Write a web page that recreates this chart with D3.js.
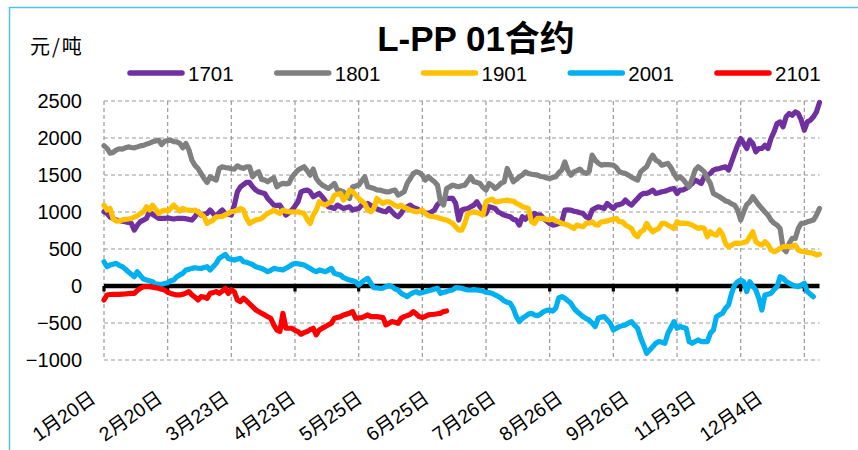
<!DOCTYPE html>
<html>
<head>
<meta charset="utf-8">
<script src="https://cdn.jsdelivr.net/npm/d3@7"></script>
<style>
  html, body { margin: 0; padding: 0; background: #fff; }
  svg { display: block; font-family: "Liberation Sans", "Noto Sans CJK SC", sans-serif; }
</style>
</head>
<body>
<svg id="chart" width="858" height="450"></svg>
<script>
// Trading-day axis: one value per session, labels every 22 sessions, ticks every 21
const dayCount = 237;
const tickStep = 21;
const labelStep = 22;
const dateLabels = ["1月20日", "2月20日", "3月23日", "4月23日", "5月25日", "6月25日",
                    "7月26日", "8月26日", "9月26日", "11月3日", "12月4日"];
const yTicks = [2500, 2000, 1500, 1000, 500, 0, -500, -1000];

const seriesNames = ["1701", "1801", "1901", "2001", "2101"];
const seriesColors = ["#7030a0", "#808080", "#ffc000", "#00b0f0", "#ff0000"];

// L-PP spread, 元/吨
const s1701 = [
  1003, 981, 930, 913, 891, 885, 877, 870, 860, 846,
  756, 823, 870, 891, 913, 1003, 967, 940, 913, 913,
  913, 920, 913, 905, 913, 913, 913, 910, 900, 891,
  936, 1003, 958, 970, 981, 1026, 980, 936, 990, 1026,
  981, 970, 958, 1093, 1273, 1341, 1370, 1400, 1400, 1341,
  1300, 1273, 1260, 1251, 1183, 1140, 1093, 1090, 1093, 1026,
  958, 990, 1026, 1080, 1138, 1273, 1290, 1296, 1273, 1206,
  1230, 1251, 1206, 1150, 1071, 1060, 1048, 1093, 1070, 1048,
  1060, 1071, 1026, 1040, 1048, 1093, 1100, 1116, 1090, 1071,
  1040, 1026, 1010, 1003, 1048, 1003, 960, 936, 981, 1048,
  1070, 1093, 1060, 1048, 1026, 1010, 990, 981, 1000, 1026,
  1100, 1138, 1160, 1183, 1183, 1183, 1116, 891, 1026, 1040,
  1048, 1070, 1093, 1138, 1071, 1020, 981, 1071, 1060, 1048,
  1000, 981, 958, 945, 936, 900, 891, 823, 936, 900,
  950, 913, 981, 960, 958, 913, 880, 846, 823, 830,
  846, 868, 1026, 1030, 1026, 1010, 1003, 990, 981, 936,
  913, 1026, 1050, 1071, 1060, 1048, 1116, 1080, 1048, 1093,
  1100, 1116, 1161, 1120, 1093, 1140, 1183, 1230, 1251, 1251,
  1270, 1296, 1251, 1260, 1273, 1280, 1296, 1310, 1318, 1251,
  1296, 1300, 1318, 1350, 1386, 1431, 1410, 1386, 1476, 1500,
  1521, 1566, 1580, 1588, 1600, 1611, 1566, 1678, 1791, 1903,
  1993, 1926, 1858, 1971, 1926, 1813, 1858, 1858, 1903, 1858,
  1993, 2083, 2196, 2218, 2151, 2286, 2331, 2308, 2353, 2330,
  2241, 2106, 2218, 2241, 2286, 2353, 2480
];
const s1801 = [
  1895, 1860, 1795, 1805, 1835, 1855, 1850, 1868, 1880, 1872,
  1867, 1880, 1894, 1900, 1917, 1930, 1948, 1960, 1971, 1912,
  1957, 1965, 1971, 1950, 1948, 1926, 1867, 1926, 1840, 1700,
  1630, 1588, 1521, 1453, 1400, 1476, 1450, 1431, 1588, 1611,
  1600, 1597, 1585, 1580, 1624, 1600, 1590, 1611, 1611, 1476,
  1520, 1543, 1440, 1431, 1408, 1440, 1462, 1341, 1370, 1386,
  1380, 1386, 1470, 1521, 1566, 1590, 1611, 1560, 1498, 1580,
  1453, 1400, 1363, 1340, 1318, 1350, 1386, 1296, 1290, 1273,
  1220, 1183, 1341, 1350, 1363, 1420, 1476, 1341, 1330, 1318,
  1300, 1296, 1285, 1273, 1273, 1290, 1296, 1228, 1250, 1273,
  1386, 1450, 1521, 1543, 1530, 1498, 1431, 1476, 1440, 1408,
  1363, 1138, 1093, 1318, 1340, 1363, 1350, 1341, 1355, 1363,
  1420, 1476, 1408, 1400, 1386, 1330, 1296, 1386, 1360, 1318,
  1350, 1390, 1408, 1588, 1500, 1408, 1440, 1476, 1500, 1543,
  1521, 1510, 1505, 1498, 1480, 1476, 1460, 1453, 1465, 1476,
  1530, 1566, 1678, 1560, 1498, 1543, 1560, 1580, 1540, 1521,
  1543, 1768, 1701, 1660, 1633, 1640, 1642, 1638, 1633, 1600,
  1543, 1530, 1521, 1498, 1470, 1450, 1431, 1543, 1580, 1611,
  1700, 1768, 1700, 1678, 1633, 1645, 1656, 1600, 1520, 1453,
  1476, 1440, 1386, 1341, 1450, 1566, 1611, 1580, 1543, 1453,
  1386, 1250, 1228, 1206, 1180, 1150, 1138, 1110, 1093, 1026,
  891, 1003, 1100, 1138, 1206, 1150, 1093, 1048, 1000, 958,
  891, 850, 823, 778, 508, 463, 576, 643, 643, 778,
  846, 850, 868, 880, 891, 958, 1048
];
const s1901 = [
  1093, 1026, 1048, 913, 877, 880, 891, 900, 905, 913,
  930, 949, 980, 1003, 1071, 1026, 1093, 1040, 981, 1010,
  1026, 1012, 1050, 1093, 1050, 1012, 1048, 1030, 1026, 1020,
  1026, 1003, 970, 936, 846, 870, 891, 936, 936, 940,
  960, 981, 1003, 1010, 1026, 1048, 1026, 913, 846, 870,
  891, 900, 913, 950, 981, 1000, 1026, 1000, 981, 1026,
  1010, 1003, 1003, 1000, 1003, 990, 981, 900, 846, 958,
  1026, 1138, 1110, 1093, 1120, 1138, 1228, 1240, 1251, 1161,
  1206, 1296, 1273, 1230, 1183, 1150, 1116, 1026, 1003, 1048,
  1183, 1150, 1116, 1138, 1138, 1116, 1090, 1071, 1093, 1060,
  1048, 1026, 1015, 1003, 1010, 1026, 980, 949, 940, 936,
  925, 913, 900, 891, 870, 846, 800, 756, 756, 846,
  981, 990, 1003, 990, 981, 958, 1138, 1160, 1175, 1138,
  1140, 1148, 1155, 1161, 1150, 1148, 1116, 1100, 1071, 1060,
  1048, 868, 846, 913, 913, 913, 900, 891, 913, 880,
  868, 846, 835, 823, 800, 778, 823, 810, 801, 846,
  850, 868, 830, 823, 868, 870, 880, 891, 900, 913,
  868, 868, 823, 800, 778, 700, 666, 733, 756, 846,
  780, 733, 760, 778, 846, 846, 820, 801, 778, 868,
  846, 850, 846, 840, 823, 800, 778, 790, 778, 666,
  733, 700, 688, 756, 700, 576, 531, 550, 576, 580,
  576, 590, 598, 666, 733, 598, 570, 553, 598, 560,
  486, 463, 480, 508, 531, 531, 531, 540, 553, 486,
  470, 463, 454, 450, 441, 418, 430
];
const s2001 = [
  328, 260, 283, 295, 306, 280, 261, 230, 193, 160,
  126, 193, 140, 94, 81, 70, 58, 30, 22, 22,
  35, 45, 70, 81, 126, 150, 171, 216, 225, 238,
  247, 240, 238, 250, 261, 216, 260, 306, 373, 400,
  427, 373, 360, 351, 365, 373, 328, 320, 306, 290,
  261, 250, 238, 215, 193, 210, 238, 230, 225, 216,
  240, 261, 290, 306, 300, 293, 283, 260, 238, 210,
  193, 216, 205, 193, 215, 238, 171, 160, 148, 112,
  95, 81, 70, 58, 13, 50, 81, 103, 36, -22,
  -25, -31, -28, -10, 5, -9, -40, -54, -99, -120,
  -144, -112, -90, -76, -99, -90, -76, -65, -54, -40,
  -31, -99, -85, -76, -60, -54, -22, -25, -31, -45,
  -54, -54, -50, -54, -60, -67, -85, -90, -99, -121,
  -140, -166, -202, -220, -234, -301, -414, -481, -436, -410,
  -380, -369, -391, -400, -380, -346, -330, -324, -340, -300,
  -160, -144, -166, -200, -234, -300, -346, -380, -414, -440,
  -459, -500, -549, -436, -420, -414, -460, -504, -594, -570,
  -549, -535, -526, -500, -481, -530, -571, -700, -800, -909,
  -864, -820, -774, -751, -760, -774, -639, -560, -481, -571,
  -549, -560, -571, -751, -774, -750, -729, -751, -751, -751,
  -639, -594, -414, -390, -369, -300, -256, -99, 13, 58,
  81, 58, -76, 58, 0, -54, -166, -324, -121, -110,
  -99, -50, -9, 126, 103, 60, 36, 13, 0, -9,
  13, 36, -76, -110, -144
];
const s2101 = [
  -189, -121, -115, -112, -112, -112, -110, -108, -103, -100,
  -99, -60, -31, -9, -9, -9, -15, -22, -31, -45,
  -54, -85, -100, -112, -121, -121, -112, -95, -76, -121,
  -150, -189, -144, -150, -166, -99, -90, -76, -99, -70,
  -31, -100, -50, -80, -190, -211, -166, -200, -240, -279,
  -320, -346, -370, -391, -415, -436, -526, -594, -616, -369,
  -571, -571, -571, -600, -616, -652, -630, -616, -590, -571,
  -661, -594, -570, -549, -525, -504, -436, -425, -414, -391,
  -380, -369, -346, -436, -430, -427, -410, -391, -414, -414,
  -414, -420, -427, -526, -504, -481, -490, -504, -436, -414,
  -400, -382, -346, -380, -414, -427, -410, -391, -385, -382,
  -375, -369, -346, -337
];
const seriesValues = [s1701, s1801, s1901, s2001, s2101];

const svg = d3.select("#chart");
const plot = { left: 104, right: 819.5, top: 101, bottom: 360 };

const x = d3.scaleLinear().domain([0, dayCount - 1]).range([plot.left, plot.right]);
const y = d3.scaleLinear().domain([-1000, 2500]).range([plot.bottom, plot.top]);

// outer frame
svg.append("rect")
  .attr("x", 9.5).attr("y", 7.5).attr("width", 900).attr("height", 500)
  .attr("fill", "none").attr("stroke", "#4fc1ef").attr("stroke-width", 1.5);

// title and unit
svg.append("text")
  .attr("x", 476).attr("y", 51).attr("text-anchor", "middle")
  .attr("font-size", 35).attr("font-weight", "bold").attr("fill", "#000")
  .text("L-PP 01合约");
svg.append("text")
  .attr("x", 30).attr("y", 54)
  .attr("font-size", 20).attr("fill", "#000")
  .attr("letter-spacing", 2)
  .attr("font-family", "'Noto Sans CJK SC', sans-serif")
  .text("元/吨");

// legend
const legend = svg.append("g");
seriesNames.forEach((name, k) => {
  const lx = 130 + k * 146.75;
  legend.append("line")
    .attr("x1", lx).attr("x2", lx + 52).attr("y1", 73).attr("y2", 73)
    .attr("stroke", seriesColors[k]).attr("stroke-width", 5.5)
    .attr("stroke-linecap", "round");
  legend.append("text")
    .attr("x", lx + 58).attr("y", 81)
    .attr("font-size", 20.5).attr("fill", "#000")
    .text(name);
});

// gridlines
const tickIdx = d3.range(0, dayCount, tickStep);
const grid = svg.append("g").attr("stroke", "#9a9a9a").attr("stroke-width", 1.2)
  .attr("stroke-dasharray", "4,3").attr("fill", "none");
grid.selectAll("line.h").data(yTicks.filter(v => v !== 0)).join("line")
  .attr("class", "h")
  .attr("x1", plot.left).attr("x2", plot.right)
  .attr("y1", d => y(d)).attr("y2", d => y(d));
grid.selectAll("line.v").data(tickIdx).join("line")
  .attr("class", "v")
  .attr("x1", d => x(d)).attr("x2", d => x(d))
  .attr("y1", plot.top).attr("y2", plot.bottom);

// y axis labels
const fmt = d3.format("d");
svg.append("g").selectAll("text").data(yTicks).join("text")
  .attr("x", 82).attr("y", d => y(d)).attr("dy", "0.36em")
  .attr("text-anchor", "end").attr("font-size", 20).attr("fill", "#000")
  .text(d => fmt(d));

// zero axis with tick marks
const axis = svg.append("g");
axis.append("line")
  .attr("x1", x(0)).attr("x2", x(dayCount - 1))
  .attr("y1", y(0)).attr("y2", y(0))
  .attr("stroke", "#000").attr("stroke-width", 4.5);
axis.selectAll("rect").data(tickIdx).join("rect")
  .attr("x", d => x(d) - 1.6).attr("y", y(0))
  .attr("width", 3.2).attr("height", 5.5).attr("fill", "#000");

// date labels along the bottom
svg.append("g").selectAll("text").data(dateLabels).join("text")
  .attr("text-anchor", "end").attr("font-size", 19.5).attr("fill", "#000")
  .attr("transform", (d, k) => `translate(${x(k * labelStep) - 7},401) rotate(-35)`)
  .text(d => d);

// series
const line = d3.line().x((d, i) => x(i)).y(d => y(d));
svg.append("g").selectAll("path").data(seriesValues).join("path")
  .attr("d", d => line(d))
  .attr("fill", "none")
  .attr("stroke", (d, k) => seriesColors[k])
  .attr("stroke-width", 5.2)
  .attr("stroke-linejoin", "round")
  .attr("stroke-linecap", "round");
</script>
</body>
</html>
